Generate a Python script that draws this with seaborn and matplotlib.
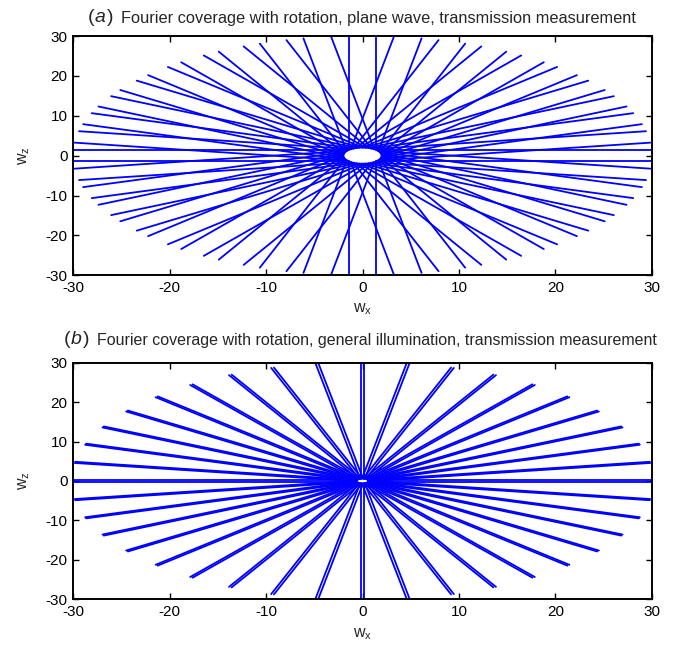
import numpy as np
import pandas as pd
import matplotlib
matplotlib.use("Agg")
import matplotlib.pyplot as plt
import seaborn as sns

# ---- data ----
angles_deg = [0, 9, 18, 27, 36, 45, 54, 63, 72, 81,
              90, 99, 108, 117, 126, 135, 144, 153, 162, 171]
# panel (a): each direction gives two parallel chords offset from the origin
offsets_a = [-1.45, 1.45]
inner_a = 1.35
outer_a = 30.0
# panel (b): each spoke through the origin is a thin double line
offsets_b = [-0.15, 0.15]
inner_b = 0.6
outer_b = 30.2

ticks = [-30, -20, -10, 0, 10, 20, 30]
tick_labels = ["-30", "-20", "-10", "0", "10", "20", "30"]
title_a = "Fourier coverage with rotation, plane wave, transmission measurement"
title_b = "Fourier coverage with rotation, general illumination, transmission measurement"


def segments(angles, offsets, r_in, r_out):
    rows = []
    seg = 0
    for a in angles:
        th = np.deg2rad(a)
        u = np.array([np.cos(th), np.sin(th)])
        n = np.array([-np.sin(th), np.cos(th)])
        for s in offsets:
            for side in (1, -1):
                for t in (side * r_in, side * r_out):
                    p = t * u + s * n
                    rows.append({"x": p[0], "y": p[1], "seg": seg})
                seg += 1
    return pd.DataFrame(rows)


df_a = segments(angles_deg, offsets_a, inner_a, outer_a)
df_b = segments(angles_deg, offsets_b, inner_b, outer_b)

sns.set_style("ticks")
plt.rcParams["font.family"] = ["Liberation Sans", "DejaVu Sans"]
plt.rcParams["mathtext.fontset"] = "custom"
plt.rcParams["mathtext.rm"] = "Liberation Sans"
plt.rcParams["mathtext.it"] = "Liberation Sans:italic"
plt.rcParams["mathtext.default"] = "regular"

W, H = 673, 646
fig = plt.figure(figsize=(W / 100, H / 100), dpi=100)


def px_axes(left, top, right, bottom):
    return fig.add_axes([left / W, 1 - bottom / H, (right - left) / W, (bottom - top) / H])


ax_a = px_axes(73.3, 36.0, 651.7, 275.3)
ax_b = px_axes(73.3, 362.7, 651.7, 599.3)

for ax, df in ((ax_a, df_a), (ax_b, df_b)):
    sns.lineplot(data=df, x="x", y="y", units="seg", estimator=None, sort=False,
                 color="#0000ff", linewidth=1.3, ax=ax)
    ax.set_xlim(-30, 30)
    ax.set_ylim(-30, 30)
    ax.set_xticks(ticks)
    ax.set_xticklabels(tick_labels)
    ax.set_yticks(ticks)
    ax.set_yticklabels(tick_labels)
    ax.tick_params(direction="in", length=4, width=1, top=True, right=True,
                   labelsize=11, colors="black", pad=4)
    for sp in ax.spines.values():
        sp.set_visible(True)
        sp.set_linewidth(1.4)
        sp.set_color("black")
    ax.set_xlabel("w$_x$", fontsize=11.5, labelpad=5)
    ax.set_ylabel("w$_z$", fontsize=11.5, labelpad=10)

# titles with italic panel letter
fig.text(88 / W, 1 - 18 / H, "(", fontsize=14, va="center", ha="left")
fig.text(95 / W, 1 - 18 / H, "a", fontsize=14, style="italic", va="center", ha="left")
fig.text(107 / W, 1 - 18 / H, ")", fontsize=14, va="center", ha="left")
fig.text(121 / W, 1 - 18 / H, title_a, fontsize=11.8, va="center", ha="left")

fig.text(64 / W, 1 - 340 / H, "(", fontsize=14, va="center", ha="left")
fig.text(71 / W, 1 - 340 / H, "b", fontsize=14, style="italic", va="center", ha="left")
fig.text(83 / W, 1 - 340 / H, ")", fontsize=14, va="center", ha="left")
fig.text(97 / W, 1 - 340 / H, title_b, fontsize=11.55, va="center", ha="left")

fig.savefig("out.png", dpi=100)
